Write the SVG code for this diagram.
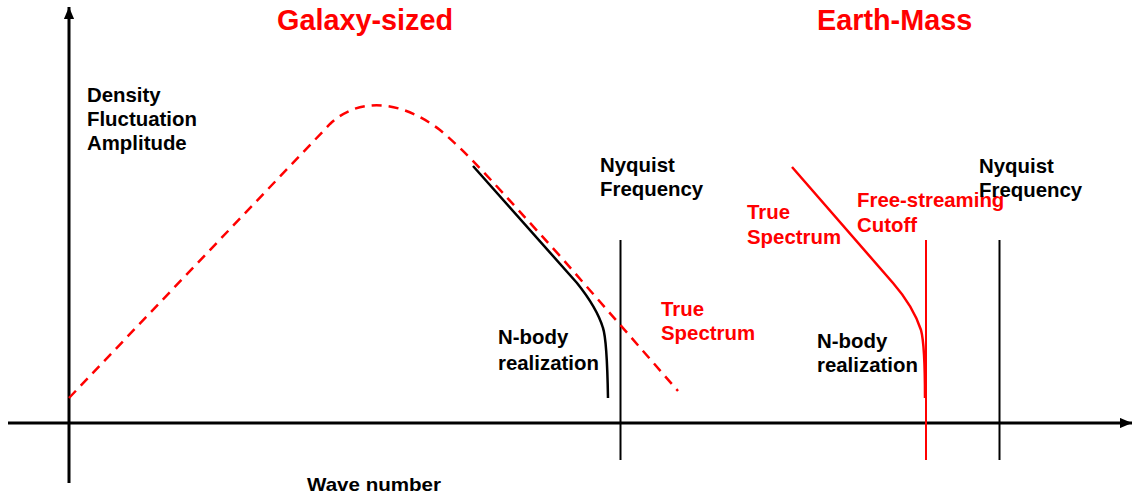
<svg xmlns="http://www.w3.org/2000/svg" width="1132" height="495" viewBox="0 0 1132 495">
<style>
text{font-family:"Liberation Sans",Arial,sans-serif;font-weight:bold;font-size:20.4px}
.blk{fill:#000}
.red{fill:#ff0000}
.title{font-size:28.8px}
.ax{stroke:#000;stroke-width:3;fill:none}
.vl{stroke:#000;stroke-width:2;fill:none}
.vr{stroke:#ff0000;stroke-width:2;fill:none}
.dash{stroke:#ff0000;stroke-width:2.5;fill:none;stroke-dasharray:10 7}
.nb{stroke:#000;stroke-width:2.5;fill:none}
.nr{stroke:#ff0000;stroke-width:2.5;fill:none}
</style>
<defs>
<marker id="ah" viewBox="0 0 10 10" refX="10" refY="5" markerWidth="4" markerHeight="3.4" orient="auto" markerUnits="strokeWidth" preserveAspectRatio="none">
<path d="M0,0 L10,5 L0,10 Z" fill="#000"/>
</marker>
</defs>
<rect width="1132" height="495" fill="#fff"/>
<g id="connectors">
<line class="ax" x1="69" y1="483" x2="69" y2="7" marker-end="url(#ah)"/>
<line class="ax" x1="8" y1="423" x2="1132" y2="423" marker-end="url(#ah)"/>
<line class="vl" x1="620.5" y1="240" x2="620.5" y2="460"/>
<line class="vl" x1="999.5" y1="240" x2="999.5" y2="460"/>
<line class="vr" x1="926" y1="240" x2="926" y2="460"/>
<path class="dash" d="M69,398 L330,124 C355,100 395,96 440,130 C470,155 500,190 560,256 L678,391"/>
<path class="nb" d="M473,166 L577,283 Q597,308 603,328 Q607,340 608,398"/>
<path class="nr" d="M792,167 L893,283 Q913,306 921,330 Q925,345 925,398"/>
</g>
<g id="title-galaxy"><text class="red title" x="277" y="30">Galaxy-sized</text></g>
<g id="title-earth"><text class="red title" x="817" y="30">Earth-Mass</text></g>
<g id="ylabel"><text class="blk" x="87" y="102">Density</text><text class="blk" x="87" y="126">Fluctuation</text><text class="blk" x="87" y="150">Amplitude</text></g>
<g id="nyquist1"><text class="blk" x="600" y="172">Nyquist</text><text class="blk" x="600" y="196">Frequency</text></g>
<g id="true1"><text class="red" x="661" y="316">True</text><text class="red" x="661" y="340">Spectrum</text></g>
<g id="nbody1"><text class="blk" x="498" y="344">N-body</text><text class="blk" x="498" y="370">realization</text></g>
<g id="true2"><text class="red" x="747" y="219">True</text><text class="red" x="747" y="244">Spectrum</text></g>
<g id="freestream"><text class="red" x="857" y="207">Free-streaming</text><text class="red" x="857" y="232">Cutoff</text></g>
<g id="nyquist2"><text class="blk" x="979" y="173">Nyquist</text><text class="blk" x="979" y="197">Frequency</text></g>
<g id="nbody2"><text class="blk" x="817" y="348">N-body</text><text class="blk" x="817" y="372">realization</text></g>
<g id="xlabel"><text class="blk" x="307" y="491" style="font-size:18.5px" textLength="134" lengthAdjust="spacingAndGlyphs">Wave number</text></g>
</svg>
